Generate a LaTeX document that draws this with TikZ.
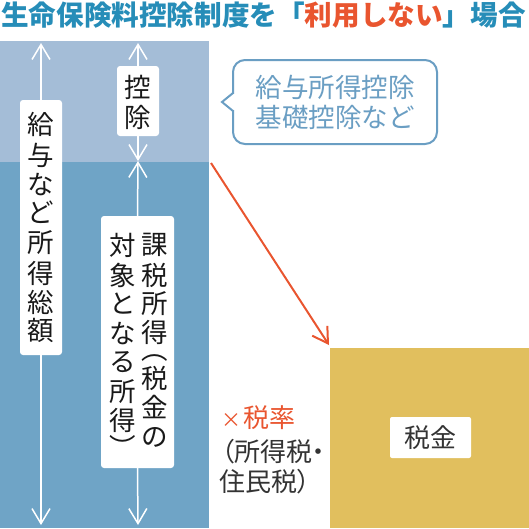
\documentclass[tikz,border=0pt]{standalone}
\usepackage{fontspec}
\setmainfont{Noto Sans CJK JP}
\newfontfamily\jpp{Noto Sans CJK JP}[RawFeature=+palt]
\usetikzlibrary{arrows.meta}
\definecolor{titleblue}{RGB}{38,141,184}
\definecolor{accent}{RGB}{233,85,47}
\definecolor{lightblk}{RGB}{164,189,215}
\definecolor{darkblk}{RGB}{111,164,198}
\definecolor{goldblk}{RGB}{225,191,94}
\definecolor{bubblec}{RGB}{106,158,195}
\definecolor{inkc}{RGB}{25,25,25}
\definecolor{gray3}{RGB}{51,51,51}
\begin{document}
\begin{tikzpicture}[x=1pt,y=-1pt,
  block/.style={inner sep=0pt, outer sep=0pt, anchor=north west},
  wbox/.style={fill=white, rounded corners=3pt, inner sep=0pt, outer sep=0pt},
  vch/.style={inner sep=0pt, font=\fontsize{26.5}{30}\selectfont, text=inkc},
  warrow/.style={white, line width=1.5pt, -{Straight Barb[length=15pt,width=18pt]}},
  oarrow/.style={accent, line width=2pt, -{Straight Barb[length=15pt,width=18pt]}},
]
\useasboundingbox (0,0) rectangle (529,528);
% title
\node[inner sep=0pt, font=\bfseries\fontsize{27.6}{30}\selectfont, text=titleblue] (title) at (263.5,15)
  {生命保険料控除制度を「\textcolor{accent}{利用しない}」場合};
% blocks
\node[block, fill=lightblk, minimum width=209pt, minimum height=121pt] (deduct) at (0,41) {};
\node[block, fill=darkblk, minimum width=209pt, minimum height=366pt] (dark) at (0,162) {};
\node[block, fill=goldblk, minimum width=199pt, minimum height=180pt] (gold) at (330,348) {};
% arrow end points
\coordinate (LT) at (41,43);
\coordinate (LB) at (41,525);
\coordinate (MT) at (138,43);
\coordinate (MM) at (138,161);
\coordinate (MB) at (138,525);
% boxes
\node[wbox, minimum width=42pt, minimum height=255pt] (gross) at (41,227.5) {};
\node[wbox, minimum width=42pt, minimum height=70pt] (kojo) at (138,101) {};
\node[wbox, minimum width=73pt, minimum height=252pt] (kazei) at (137.5,342) {};
\draw[warrow] (gross.north) -- (LT);
\draw[warrow] (gross.south) -- (LB);
\draw[warrow] (kojo.north) -- (MT);
\draw[warrow] (kojo.south) -- (MM);
\draw[warrow] (kazei.north) -- (MM);
\draw[warrow] (kazei.south) -- (MB);
% vertical texts
\foreach \c/\yy [count=\i] in {給/124.5,与/155,な/185,ど/212,所/243,得/273,総/302,額/330}
  \node[vch] (g\i) at (41,\yy) {\c};
\foreach \c/\yy [count=\i] in {控/87.5,除/117}
  \node[vch] (k\i) at (138,\yy) {\c};
\foreach \c/\yy [count=\i] in {課/245,税/275,所/304,得/332,︵/358,税/378,金/407,の/437}
  \node[vch] (r\i) at (154.5,\yy) {\c};
\foreach \c/\yy [count=\i] in {対/245,象/275,と/304,な/334,る/362,所/392,得/420,︶/446}
  \node[vch] (l\i) at (122.5,\yy) {\c};
% bubble
\node[draw=bubblec, line width=2pt, rounded corners=12pt, fill=white, minimum width=204pt, minimum height=84pt, inner sep=0pt] (bubble) at (335,102) {};
\fill[white] (231.5,94) rectangle (235,110);
\draw[bubblec, line width=2pt, line join=miter] (233,93) -- (222,102) -- (233,111);
\node[inner sep=0pt, align=left, font=\fontsize{26.5}{30}\selectfont, text=bubblec] (btext) at (bubble.center)
  {給与所得控除\\基礎控除など};
% orange arrow
\draw[oarrow] ([shift={(2,1)}]dark.north east) -- ([shift={(-1,-3)}]gold.north west);
% rate text
\node[inner sep=0pt, anchor=west, font=\fontsize{26}{30}\selectfont, text=accent] (rate) at (221,418) {{\fontsize{20}{24}\selectfont ×}\kern2pt 税率};
\node[inner sep=0pt, anchor=west, font=\jpp\fontsize{26}{30}\selectfont, text=gray3] (rate2) at (221,452) {（所得税・};
\node[inner sep=0pt, anchor=west, font=\jpp\fontsize{26}{30}\selectfont, text=gray3] (rate3) at (219,482) {住民税）};
% tax box
\node[wbox, rounded corners=2pt, minimum width=81pt, minimum height=41pt, font=\fontsize{26}{30}\selectfont, text=gray3] (tax) at (430.5,437.5) {税金};
\end{tikzpicture}
\end{document}
